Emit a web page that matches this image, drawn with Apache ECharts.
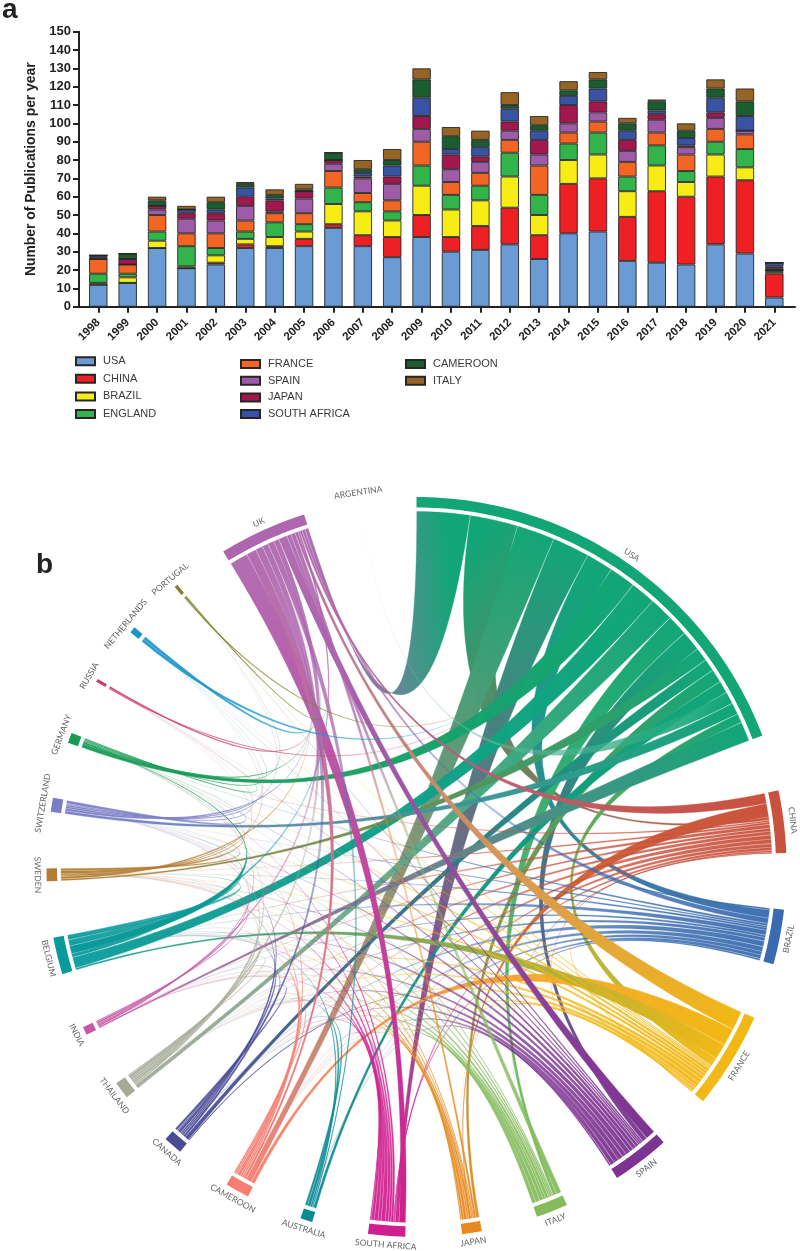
<!DOCTYPE html>
<html>
<head>
<meta charset="utf-8">
<style>html,body{margin:0;padding:0;background:#fff}#c{width:800px;height:1251px}</style>
<script src="https://cdn.jsdelivr.net/npm/echarts@6/dist/echarts.min.js"></script>
</head>
<body>
<div id="c"></div>
<script>
// ---------- panel a: publications per year ----------
const years = ['1998','1999','2000','2001','2002','2003','2004','2005','2006','2007','2008','2009','2010','2011','2012','2013','2014','2015','2016','2017','2018','2019','2020','2021'];
const usa         = [12,13,32,21,23,32,32,33,43,33,27,38,30,31,34,26,40,41,25,24,23,34,29,5];
const china       = [0,0,0,0,1,2,1,4,2,6,11,12,8,13,20,13,27,29,24,39,37,37,40,13];
const brazil      = [1,3,4,1,4,3,5,4,11,13,9,16,15,14,17,11,13,13,14,14,8,12,7,1];
const england     = [5,2,5,11,4,4,8,4,9,5,5,11,8,8,13,11,9,12,8,11,6,7,10,1];
const france      = [8,5,9,7,8,6,5,6,9,5,6,13,7,7,7,16,6,6,8,7,9,7,8,0];
const spain       = [0,0,3,8,7,8,1,8,4,8,9,7,7,6,5,6,5,5,6,7,4,6,2,1];
const japan       = [1,3,2,3,4,5,6,4,2,1,4,7,8,3,5,8,10,6,6,3,1,3,0,1];
const southAfrica = [1,0,0,2,2,5,1,0,0,2,6,10,3,5,7,5,5,7,5,2,4,8,8,2];
const cameroon    = [0,3,3,0,4,2,2,1,4,2,3,10,7,4,2,3,3,5,4,5,4,5,8,0];
const italy       = [0,0,2,2,3,1,3,3,0,5,6,6,5,5,7,5,5,4,3,1,4,5,7,0];
const yTicksMax = 150;

// ---------- panel b: collaboration ribbons, in arc order ----------
const usaLinks = [['UK',8.7],['CHINA',7.8],['CAMEROON',6.2],['SOUTH AFRICA',6.1],['BRAZIL',4.4],['GERMANY',4.3],['BELGIUM',4.1],['THAILAND',3.9],['ITALY',3.4],['SPAIN',3.3],['SWEDEN',2.2],['CANADA',2.0],['JAPAN',2.2],['AUSTRALIA',2.0],['ARGENTINA',2.0],['SWITZERLAND',1.9],['FRANCE',1.5],['INDIA',3.2]];
const chinaLinks = [['UK',1.7],['JAPAN',2.2],['USA',0.5],['GERMANY',0.3],['SWEDEN',0.4],['BELGIUM',0.6],['INDIA',0.5],['THAILAND',0.6],['CANADA',0.7],['CAMEROON',0.7],['AUSTRALIA',0.6],['SOUTH AFRICA',0.5],['ITALY',0.3],['SPAIN',0.2]];
const brazilLinks = [['CHINA',0.3],['USA',1.3],['UK',0.9],['GERMANY',0.4],['SWITZERLAND',0.3],['SWEDEN',0.4],['BELGIUM',0.8],['INDIA',0.4],['THAILAND',0.6],['CANADA',0.9],['CAMEROON',0.8],['AUSTRALIA',0.6],['SOUTH AFRICA',0.6],['JAPAN',0.3]];
const franceLinks = [['UK',3.1],['CAMEROON',2.9],['BELGIUM',2.5],['USA',1.4],['PORTUGAL',0.2],['NETHERLANDS',0.2],['RUSSIA',0.2],['GERMANY',0.5],['SWITZERLAND',0.5],['SWEDEN',0.5],['INDIA',0.6],['THAILAND',0.7],['CANADA',0.7],['AUSTRALIA',0.4],['SOUTH AFRICA',0.3],['JAPAN',0.1],['SPAIN',0.2],['BRAZIL',0.2]];
const spainLinks = [['UK',1.6],['USA',0.8],['PORTUGAL',0.3],['NETHERLANDS',0.3],['RUSSIA',0.3],['GERMANY',0.5],['SWITZERLAND',0.6],['SWEDEN',0.6],['BELGIUM',0.8],['INDIA',0.7],['THAILAND',0.8],['CANADA',0.8],['CAMEROON',0.7],['AUSTRALIA',0.3]];
const italyLinks = [['UK',0.8],['USA',0.6],['GERMANY',0.2],['SWITZERLAND',0.3],['SWEDEN',0.3],['BELGIUM',0.5],['INDIA',0.4],['THAILAND',0.6],['CANADA',0.7],['CAMEROON',0.6]];
const japanLinks = [['USA',0.5],['UK',0.4],['SWITZERLAND',0.2],['SWEDEN',0.2],['BELGIUM',0.4],['INDIA',0.3],['THAILAND',0.5],['CANADA',0.4],['CAMEROON',0.2]];
const southAfricaLinks = [['UK',1.1],['USA',0.6],['CHINA',0.2],['BRAZIL',0.1],['GERMANY',0.4],['SWITZERLAND',0.4],['SWEDEN',0.5],['BELGIUM',0.7],['INDIA',0.5],['THAILAND',0.6],['CANADA',0.5],['CAMEROON',0.2]];
const australiaLinks = [['USA',0.5],['UK',0.2],['BELGIUM',0.3],['THAILAND',0.5],['CANADA',0.4]];
const cameroonLinks = [['FRANCE',0.6],['USA',1.0],['UK',0.4],['GERMANY',0.3],['SWEDEN',0.3],['BELGIUM',0.6],['INDIA',0.3],['THAILAND',0.3]];
const canadaLinks = [['FRANCE',0.2],['USA',0.7],['UK',0.4],['SWITZERLAND',0.3],['SWEDEN',0.3],['BELGIUM',0.5],['INDIA',0.2],['THAILAND',0.4]];
const thailandLinks = [['USA',0.7],['UK',0.3],['GERMANY',0.3],['SWITZERLAND',0.3],['SWEDEN',0.4],['BELGIUM',0.5],['INDIA',0.2]];
const indiaLinks = [['USA',0.3],['UK',0.3],['GERMANY',0.2],['SWITZERLAND',0.3],['SWEDEN',0.2]];
const belgiumLinks = [['FRANCE',0.3],['USA',1.8],['UK',0.6],['GERMANY',1.3],['SWITZERLAND',1.0],['SWEDEN',0.8]];
const swedenLinks = [['USA',0.3],['UK',0.4],['NETHERLANDS',0.2],['RUSSIA',0.2],['GERMANY',0.5],['SWITZERLAND',0.4]];
const switzerlandLinks = [['USA',0.5],['UK',0.4],['PORTUGAL',0.3],['NETHERLANDS',0.3],['RUSSIA',0.2],['GERMANY',0.5]];
const germanyLinks = [['USA',0.7],['UK',0.3],['PORTUGAL',0.2],['NETHERLANDS',0.2],['RUSSIA',0.2]];
const russiaLinks = [['USA',0.2],['UK',0.3]];
const netherlandsLinks = [['USA',0.5],['UK',0.5]];
const portugalLinks = [['USA',0.25],['UK',0.25]];
const ukLinks = [['SOUTH AFRICA',3.0],['CAMEROON',1.6],['CANADA',1.2],['THAILAND',1.0],['AUSTRALIA',1.0],['INDIA',0.9],['SPAIN',1.4],['ITALY',0.7],['JAPAN',0.7],['FRANCE',0.5],['BELGIUM',0.3],['CHINA',0.4],['BRAZIL',0.5],['USA',0.6]];
const argentinaLinks = [['USA',0.05]];

const countryNames = ['USA','CHINA','BRAZIL','FRANCE','SPAIN','ITALY','JAPAN','SOUTH AFRICA','AUSTRALIA','CAMEROON','CANADA','THAILAND','INDIA','BELGIUM','SWEDEN','SWITZERLAND','GERMANY','RUSSIA','NETHERLANDS','PORTUGAL','UK','ARGENTINA'];
const countryLinks = [usaLinks,chinaLinks,brazilLinks,franceLinks,spainLinks,italyLinks,japanLinks,southAfricaLinks,australiaLinks,cameroonLinks,canadaLinks,thailandLinks,indiaLinks,belgiumLinks,swedenLinks,switzerlandLinks,germanyLinks,russiaLinks,netherlandsLinks,portugalLinks,ukLinks,argentinaLinks];
const countryColors = ['#12a677','#c9523e','#3a6bb0','#f2b815','#7d3391','#85bb5c','#e68a20','#cf1f8f','#0b8a95','#f57e71','#4a4a97','#a6ab99','#c35aa8','#0a9a9c','#b37c30','#7b7dc6','#189b55','#cc3f6b','#1b95c9','#7e7f2b','#ae66ae','#cccccc'];

// ---------- layout of the ring, derived from the values ----------
const R_OUT = 370, R_IN = 359.5, R_RIB = 355.5;
const sumOf = a => a.reduce((s, l) => s + l[1], 0);
const totals = countryLinks.map(sumOf);
const gapDeg = (360 - totals.reduce((a, b) => a + b, 0)) / countryNames.length;
const nodes = [];
let cursor = 0;
countryNames.forEach((name, i) => {
  const start = cursor, slots = {};
  let p = start;
  countryLinks[i].forEach(l => { slots[l[0]] = [p, p + l[1]]; p += l[1]; });
  nodes.push({ name, start, end: p, slots, color: countryColors[i] });
  cursor = p + gapDeg;
});
const ribbons = [];
const seen = {};
nodes.forEach((n, i) => {
  countryLinks[i].forEach(l => {
    const t = countryNames.indexOf(l[0]);
    const key = Math.min(i, t) + '-' + Math.max(i, t);
    if (seen[key]) return;
    seen[key] = 1;
    ribbons.push({ s: i, t, a: n.slots[l[0]], b: nodes[t].slots[n.name] || null });
  });
});
function tailSlot(nodeIdx) {
  const n = nodes[nodeIdx], mid = (n.start + n.end) / 2;
  const w = Math.min(0.12, (n.end - n.start) / 2);
  return [mid - w / 2, mid + w / 2];
}
function hexA(hex, a) {
  const v = parseInt(hex.slice(1), 16);
  return 'rgba(' + (v >> 16) + ',' + ((v >> 8) & 255) + ',' + (v & 255) + ',' + a + ')';
}
function arcPts(api, r, a0, a1, n) {
  const pts = [];
  for (let k = 0; k <= n; k++) pts.push(api.coord([r, a0 + (a1 - a0) * k / n]));
  return pts;
}
function quad(p0, c, p1, n) {
  const pts = [];
  for (let k = 1; k < n; k++) {
    const t = k / n, u = 1 - t;
    pts.push([u * u * p0[0] + 2 * u * t * c[0] + t * t * p1[0], u * u * p0[1] + 2 * u * t * c[1] + t * t * p1[1]]);
  }
  return pts;
}
function renderRibbon(params, api) {
  const rb = ribbons[api.value(0)];
  const pad = 0.05;
  const shrink = s => (s[1] - s[0] > 2.2 * pad) ? [s[0] + pad, s[1] - pad] : [(s[0] + s[1]) / 2 - 0.04, (s[0] + s[1]) / 2 + 0.04];
  const A = shrink(rb.a), B = shrink(rb.b || tailSlot(rb.t));
  const wA = rb.a[1] - rb.a[0], wB = rb.b ? rb.b[1] - rb.b[0] : 0.05;
  const n = Math.max(3, Math.ceil((A[1] - A[0]) * 2)), m = Math.max(3, Math.ceil((B[1] - B[0]) * 2));
  const c = api.coord([0, 0]);
  const arcA = arcPts(api, R_RIB, A[0], A[1], n), arcB = arcPts(api, R_RIB, B[0], B[1], m);
  const pts = arcA.concat(quad(arcA[n], c, arcB[0], 40), arcB, quad(arcB[m], c, arcA[0], 40));
  const sa = api.coord([R_RIB, (A[0] + A[1]) / 2]), sb = api.coord([R_RIB, (B[0] + B[1]) / 2]);
  const cA = nodes[rb.s].color, cB = nodes[rb.t].color;
  const big = Math.max(wA, wB) > 1.2;
  let stops;
  if (big) {
    stops = [{ offset: 0, color: hexA(cA, 1) }, { offset: 1, color: hexA(cB, rb.t === 21 ? 0 : 0.95) }];
  } else if (rb.b) {
    stops = [{ offset: 0, color: hexA(cA, 0.95) }, { offset: 0.28, color: hexA(cA, 0.75) }, { offset: 0.5, color: hexA(cA, 0.35) },
             { offset: 0.72, color: hexA(cB, 0.75) }, { offset: 1, color: hexA(cB, 0.95) }];
  } else {
    stops = [{ offset: 0, color: hexA(cA, 0.95) }, { offset: 0.35, color: hexA(cA, 0.7) }, { offset: 0.6, color: hexA(cA, 0.3) }, { offset: 1, color: hexA(cB, 0.05) }];
  }
  const fill = new echarts.graphic.LinearGradient(sa[0], sa[1], sb[0], sb[1], stops, true);
  return { type: 'polygon', shape: { points: pts }, style: { fill, stroke: fill, lineWidth: 0.35 }, silent: true };
}
function renderNode(params, api) {
  const nd = nodes[api.value(0)];
  const nA = Math.max(2, Math.ceil(nd.end - nd.start));
  const pts = arcPts(api, R_OUT, nd.start, nd.end, nA).concat(arcPts(api, R_IN, nd.end, nd.start, nA));
  const mid = (nd.start + nd.end) / 2;
  const lp = api.coord([379, mid]);
  const rot = (mid > 90 && mid < 270) ? mid - 180 : mid;
  return {
    type: 'group', children: [
      { type: 'polygon', shape: { points: pts }, style: { fill: nd.name === 'ARGENTINA' ? 'rgba(0,0,0,0)' : nd.color }, silent: true },
      { type: 'text', x: lp[0], y: lp[1], rotation: -rot * Math.PI / 180, silent: true,
        style: { text: nd.name, fill: '#666', font: '8.6px Lato, "Open Sans", sans-serif', align: 'center', verticalAlign: 'middle' } }
    ]
  };
}

const barSeries = [['USA',usa,'#6a9bd4'],['CHINA',china,'#ee2024'],['BRAZIL',brazil,'#f7ec13'],['ENGLAND',england,'#32b44a'],['FRANCE',france,'#f26522'],['SPAIN',spain,'#9e5ca8'],['JAPAN',japan,'#a2174e'],['SOUTH AFRICA',southAfrica,'#3953a4'],['CAMEROON',cameroon,'#1a5e30'],['ITALY',italy,'#966526']]
  .map(d => ({
    name: d[0], type: 'bar', stack: 'total', data: d[1], xAxisIndex: 0, yAxisIndex: 0, barWidth: 18.4,
    itemStyle: { color: d[2], borderColor: '#262626', borderWidth: 0.9 }, silent: true
  }));

const legendBase = { orient: 'vertical', selectedMode: false, itemWidth: 19, itemHeight: 8, icon: 'rect',
  textStyle: { fontFamily: '"Liberation Sans", Arial, sans-serif', fontSize: 11, color: '#3a3a3a', padding: [0, 0, 0, 3] } };

const chart = echarts.init(document.getElementById('c'), null, { renderer: 'canvas' });
chart.setOption({
  animation: false,
  backgroundColor: '#fff',
  title: [
    { text: 'a', left: -3, top: -8.5, textStyle: { fontFamily: '"Liberation Sans", Arial', fontSize: 28, fontWeight: 'bold', color: '#222' } },
    { text: 'b', left: 31, top: 546, textStyle: { fontFamily: '"Liberation Sans", Arial', fontSize: 28, fontWeight: 'bold', color: '#222' } }
  ],
  legend: [
    Object.assign({}, legendBase, { left: 70, top: 350.7, itemGap: 6.6, data: ['USA','CHINA','BRAZIL','ENGLAND'] }),
    Object.assign({}, legendBase, { left: 235, top: 353.5, itemGap: 5.7, data: ['FRANCE','SPAIN','JAPAN','SOUTH AFRICA'] }),
    Object.assign({}, legendBase, { left: 400, top: 353.5, itemGap: 5.7, data: ['CAMEROON','ITALY'] })
  ],
  grid: [
    { left: 83.6, width: 705.4, top: 31.7, height: 275 },
    { left: 79, width: 716, top: 31.7, height: 275 }
  ],
  xAxis: [
    { type: 'category', gridIndex: 0, data: years, axisLine: { show: false },
      axisTick: { show: true, alignWithLabel: true, length: 6, lineStyle: { width: 2, color: '#222' } },
      axisLabel: { rotate: 45, margin: 14, interval: 0, fontFamily: '"Liberation Sans", Arial', fontSize: 11.5, fontWeight: 'bold', color: '#222' } },
    { type: 'value', gridIndex: 1, min: 0, max: 1, axisLine: { show: true, onZero: false, lineStyle: { width: 2, color: '#222' } },
      axisTick: { show: false }, axisLabel: { show: false }, splitLine: { show: false } }
  ],
  yAxis: [
    { type: 'value', gridIndex: 0, min: 0, max: yTicksMax, show: false },
    { type: 'value', gridIndex: 1, min: 0, max: yTicksMax, interval: 10, splitLine: { show: false },
      axisLine: { show: true, lineStyle: { width: 2, color: '#222' } },
      axisTick: { show: true, length: 6, lineStyle: { width: 2, color: '#222' } },
      axisLabel: { margin: 8, fontFamily: '"Liberation Sans", Arial', fontSize: 13, fontWeight: 'bold', color: '#222' },
      name: 'Number of Publications per year', nameLocation: 'middle', nameRotate: 90, nameGap: 30,
      nameTextStyle: { fontFamily: '"Liberation Sans", Arial', fontSize: 13.9, fontWeight: 'bold', color: '#222' } }
  ],
  polar: { center: [416.5, 867], radius: R_OUT },
  angleAxis: { type: 'value', min: 0, max: 360, startAngle: 90, clockwise: true, show: false },
  radiusAxis: { type: 'value', min: 0, max: R_OUT, show: false },
  series: barSeries.concat([
    { type: 'custom', coordinateSystem: 'polar', clip: false, silent: true, renderItem: renderRibbon, data: ribbons.map((r, i) => [i]) },
    { type: 'custom', coordinateSystem: 'polar', clip: false, silent: true, renderItem: renderNode, data: nodes.map((n, i) => [i]) }
  ])
});
</script>
</body>
</html>
